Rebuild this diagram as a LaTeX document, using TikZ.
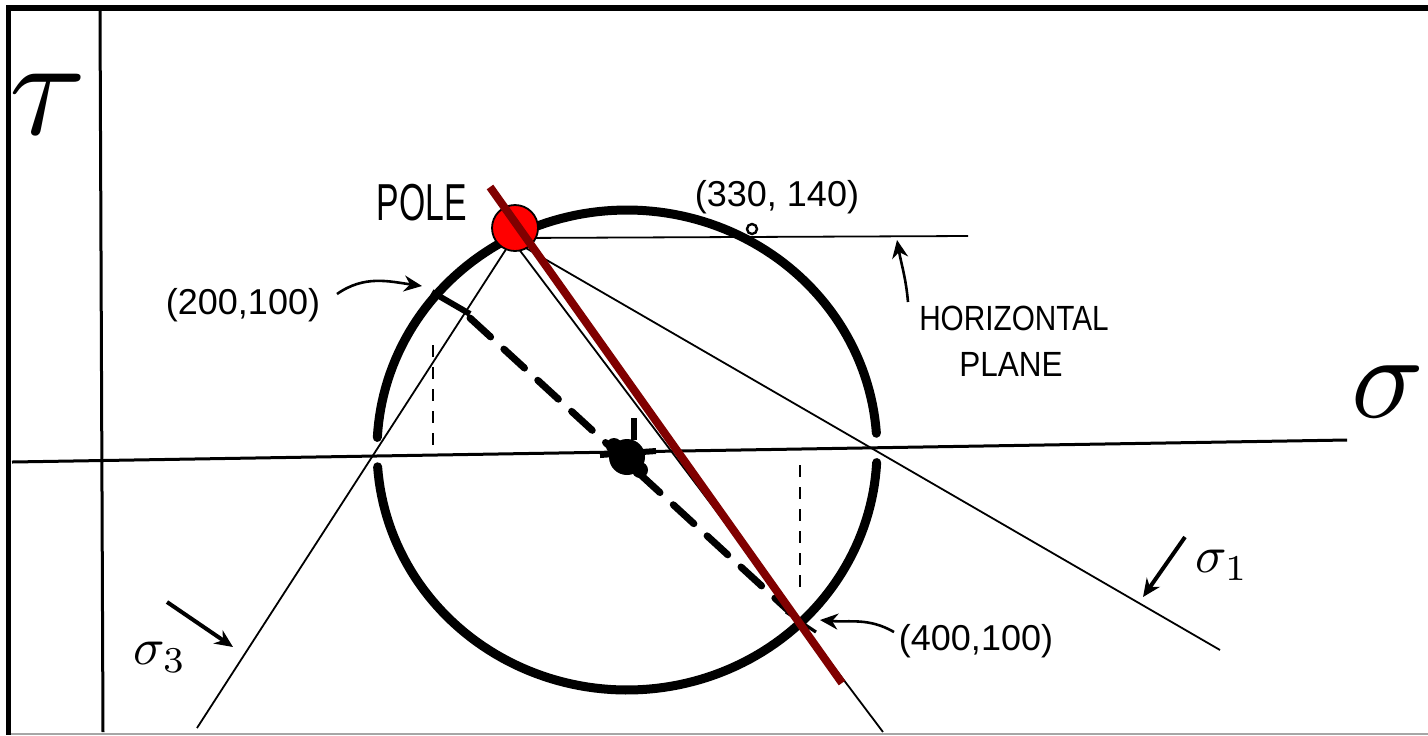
\documentclass[tikz,border=0pt]{standalone}
\usepackage{fontspec}
\setmainfont{Liberation Sans}
\usetikzlibrary{arrows.meta}
\definecolor{darkred}{RGB}{128,0,0}
\begin{document}
\begin{tikzpicture}[x=0.5pt,y=-0.5pt,
  axisline/.style={line width=1.5pt},
  mohr/.style={line width=4.5pt, line cap=round},
  thinline/.style={line width=0.9pt},
  bigdash/.style={line width=3.5pt, line cap=round, dash pattern=on 14pt off 9pt},
  smalldash/.style={line width=1.4pt, dash pattern=on 6pt off 5pt},
  lbl/.style={font=\fontsize{18}{20}\selectfont, inner sep=0pt},
  handarrow/.style={line width=1.3pt, -{Stealth[length=9pt,width=8pt]}},
  polestyle/.style={circle, fill=red, draw=black, line width=0.9pt, minimum size=23pt, inner sep=0pt}]
\useasboundingbox (0,0) rectangle (1428,735);
\fill[white] (0,0) rectangle (1428,735);
% frame
\fill[black] (6,5) rectangle (1428,11);
\fill[black] (6,5) rectangle (11,735);
\draw[black!35, line width=1pt] (11,734) -- (1428,734);
% coordinates
\coordinate (ax0) at (12,462);
\coordinate (ax1) at (1347,440);
\coordinate (ay0) at (100,11);
\coordinate (ay1) at (103,732);
\coordinate (pb) at (512,240);
\coordinate (hpstart) at (515,238);
\coordinate (hpend) at (968,236);
\coordinate (s3end) at (197,728);
\coordinate (s1end) at (1220,650);
\coordinate (pend) at (883,732);
\coordinate (redtop) at (490,187);
\coordinate (redbot) at (842,683);
\coordinate (d0) at (470,318);
\coordinate (d1) at (790,612);
\coordinate (c) at (627,457);
% axes
\draw[axisline] (ax0) -- (ax1);
\draw[axisline] (ay0) -- (ay1);
% Mohr circle (with gaps at the sigma axis)
\draw[mohr] plot[domain=3:176,samples=100] ({627+250*cos(\x)},{450+240*sin(\x)});
\draw[mohr] plot[domain=183:356,samples=100] ({627+250*cos(\x)},{450+240*sin(\x)});
% thin construction lines from the pole
\draw[thinline] (hpstart) -- (hpend);
\draw[thinline] (pb) -- (s3end);
\draw[thinline] (pb) -- (s1end);
\draw[thinline] (pb) -- (pend);
% diameter through the two stress points
\draw[bigdash] (d0) -- (d1);
\draw[smalldash] (433,345) -- (433,452);
\draw[smalldash] (800,465) -- (800,592);
% tick marks at the points
\draw[line width=3pt] (432,292) -- (470,314);
\draw[line width=1.6pt] (786,612) -- (816,632);
\draw[line width=1.6pt] (790,632) -- (814,610);
\draw[line width=1.2pt] (752,229) circle[radius=2.5pt];
% centre blob
\fill (c) circle[radius=9pt];
\draw[line width=3pt] (600,455) -- (656,451);
\draw[line width=3pt] (634,418) -- (634,440);
\fill (614,446) circle[radius=4pt];
\fill (640,470) circle[radius=4pt];
% pole and red line
\node[polestyle] (pole) at (515,228) {};
\draw[darkred, line width=4pt] (redtop) -- (redbot);
% axis labels
\node[scale=7, inner sep=0pt] (tau) at (48,104) {$\tau$};
\node[scale=6, inner sep=0pt] (sigma) at (1388,392) {$\sigma$};
% text labels
\node[font=\fontsize{26}{28}\selectfont, xscale=0.65, inner sep=0pt] (polelbl) at (422,203) {POLE};
\node[lbl] (l330) at (777,197) {(330, 140)};
\node[lbl] (l200) at (243,305) {(200,100)};
\node[lbl] (l400) at (976,641) {(400,100)};
\node[font=\fontsize{17.5}{19}\selectfont, xscale=0.85, inner sep=0pt] (lhor) at (1014,318) {HORIZONTAL};
\node[font=\fontsize{17.5}{19}\selectfont, xscale=0.9, inner sep=0pt] (lplane) at (1011,364) {PLANE};
\node[scale=2.6, inner sep=0pt] (ls1) at (1222,565) {$\sigma_1$};
\node[scale=2.6, inner sep=0pt] (ls3) at (160,657) {$\sigma_3$};
% arrows
\coordinate (a200t) at (337,294);
\coordinate (a200h) at (422,286);
\draw[handarrow] (a200t) to[out=35,in=172] (a200h);
\coordinate (a400t) at (894,632);
\coordinate (a400h) at (820,620);
\draw[handarrow] (a400t) to[out=150,in=-5] (a400h);
\coordinate (ahpt) at (908,302);
\coordinate (ahph) at (897,240);
\draw[handarrow] (ahpt) to[out=95,in=-80] (ahph);
\coordinate (as1t) at (1185,537);
\coordinate (as1h) at (1143,597);
\draw[handarrow, line width=2pt] (as1t) -- (as1h);
\coordinate (as3t) at (167,602);
\coordinate (as3h) at (233,647);
\draw[handarrow, line width=2pt] (as3t) -- (as3h);
\end{tikzpicture}
\end{document}
